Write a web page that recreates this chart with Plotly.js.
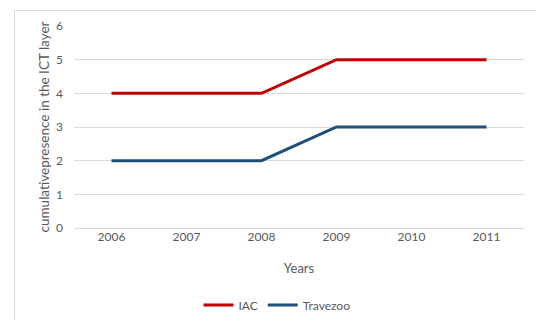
<!DOCTYPE html>
<html>
<head>
<meta charset="utf-8">
<script src="https://cdn.plot.ly/plotly-3.0.1.min.js"></script>
<style>
html,body{margin:0;padding:0;background:#fff;width:536px;height:320px;overflow:hidden;}
#frame{position:absolute;left:14px;top:10px;width:540px;height:330px;border:1px solid #d9d9d9;box-sizing:border-box;}
#chart{position:absolute;left:0;top:0;width:536px;height:320px;}
</style>
</head>
<body>
<div id="frame"></div>
<div id="chart"></div>
<script>
const years = ['2006', '2007', '2008', '2009', '2010', '2011'];
const iacValues = [4, 4, 4, 5, 5, 5];
const travezooValues = [2, 2, 2, 3, 3, 3];
const yTicks = [0, 1, 2, 3, 4, 5, 6];

const fam = 'Lato, "Open Sans", sans-serif';
const grey = '#595959';

const traces = [
  {x: years, y: iacValues, name: 'IAC', type: 'scatter', mode: 'lines',
   line: {color: '#C00000', width: 3}},
  {x: years, y: travezooValues, name: 'Travezoo', type: 'scatter', mode: 'lines',
   line: {color: '#1F4E79', width: 3}}
];

const layout = {
  width: 536, height: 320,
  margin: {l: 74, r: 12, t: 26, b: 92},
  paper_bgcolor: 'rgba(0,0,0,0)',
  plot_bgcolor: 'rgba(0,0,0,0)',
  font: {family: fam, color: grey, size: 12},
  showlegend: true,
  legend: {orientation: 'h', xref: 'container', yref: 'container',
           x: 277 / 536, xanchor: 'center', y: 1 - 305 / 320, yanchor: 'middle',
           font: {family: fam, color: grey, size: 12}, itemwidth: 30, traceorder: 'normal'},
  xaxis: {
    type: 'category', range: [-0.5, 5.5], showgrid: false, zeroline: false, showline: false,
    automargin: false,
    ticks: '', tickfont: {family: fam, color: grey, size: 12},
    title: {text: 'Years', font: {family: fam, color: grey, size: 13}, standoff: 20}
  },
  yaxis: {
    range: [0, 6], tickvals: yTicks, showgrid: true, gridcolor: '#d9d9d9', gridwidth: 1,
    automargin: false,
    zeroline: true, zerolinecolor: '#d9d9d9', zerolinewidth: 1, showline: false, ticks: '',
    ticklabelstandoff: 10,
    tickfont: {family: fam, color: grey, size: 12},
    title: {text: 'cumulativepresence in the ICT layer', font: {family: fam, color: grey, size: 13.5}, standoff: 3}
  }
};

Plotly.newPlot('chart', traces, layout, {displayModeBar: false, staticPlot: true});
</script>
</body>
</html>
